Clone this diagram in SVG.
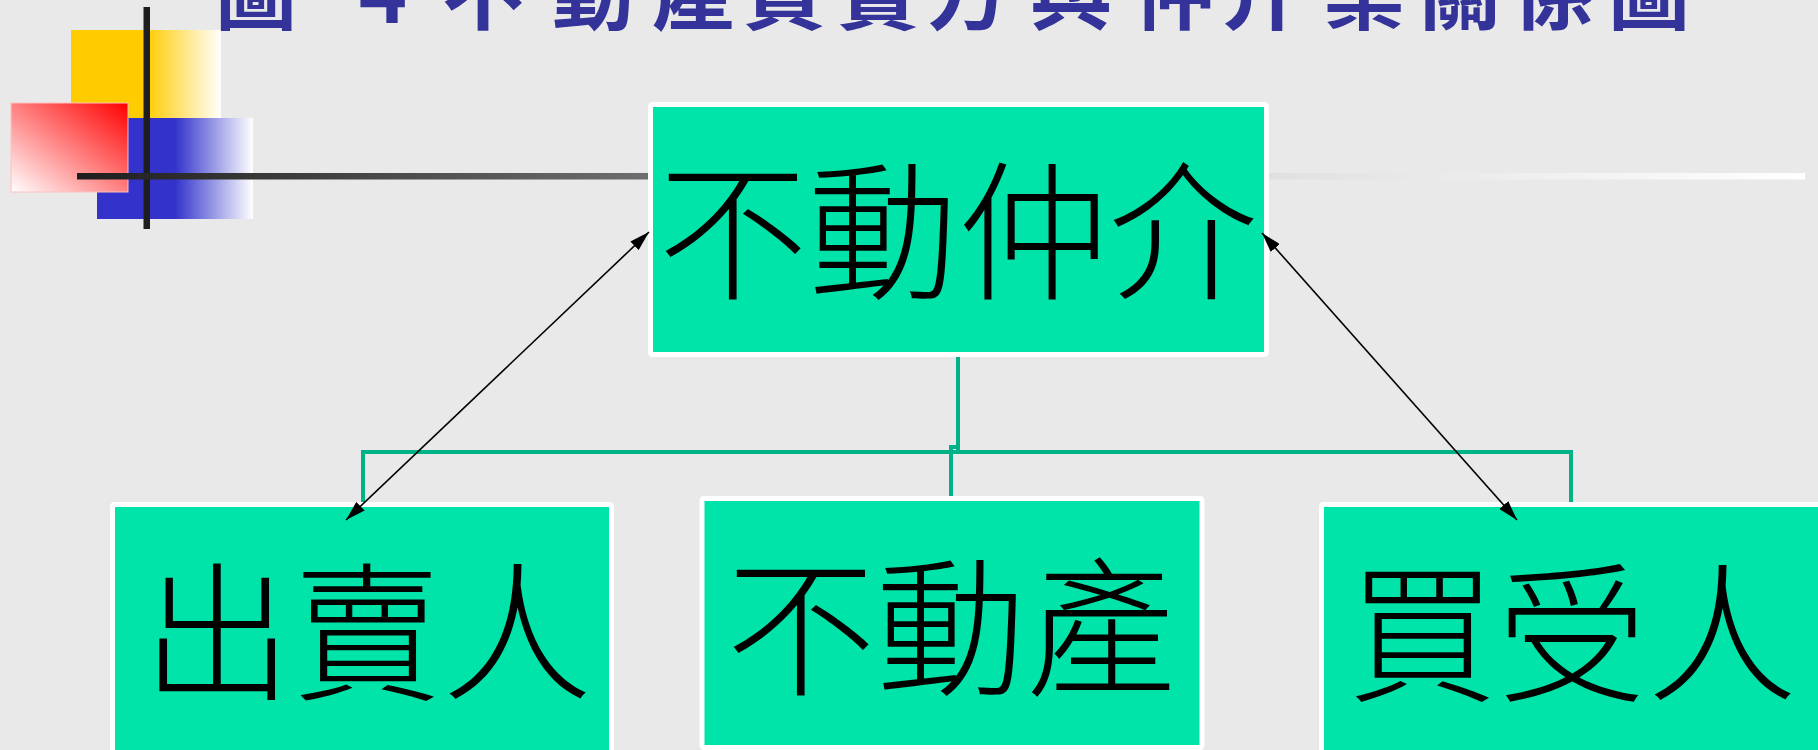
<svg xmlns="http://www.w3.org/2000/svg" width="1818" height="750" viewBox="0 0 1818 750">
  <style>
    .box { fill: #00e4aa; stroke: #ffffff; stroke-width: 5; }
    .lbl { font-family: "Noto Sans CJK TC", "Noto Sans CJK SC", sans-serif; font-size: 150px; font-weight: 300; fill: #000000; text-anchor: middle; }
    .title { font-family: "Noto Sans CJK TC", "Noto Sans CJK SC", sans-serif; font-size: 82px; font-weight: 700; fill: #333399; text-anchor: middle; }
    .tree { fill: none; stroke: #00b386; stroke-width: 4; }
    .arrow { fill: none; stroke: #000000; stroke-width: 1.6; marker-start: url(#ah); marker-end: url(#ah); }
  </style>
  <defs>
    <linearGradient id="gYellow" x1="0" y1="0" x2="1" y2="0">
      <stop offset="0" stop-color="#ffcc00"/>
      <stop offset="0.5" stop-color="#ffcc00"/>
      <stop offset="1" stop-color="#ffffff"/>
    </linearGradient>
    <linearGradient id="gBlue" x1="0" y1="0" x2="1" y2="0">
      <stop offset="0" stop-color="#3333cc"/>
      <stop offset="0.5" stop-color="#3333cc"/>
      <stop offset="1" stop-color="#ffffff"/>
    </linearGradient>
    <linearGradient id="gRed" x1="1" y1="0" x2="0" y2="1">
      <stop offset="0" stop-color="#ff0000"/>
      <stop offset="1" stop-color="#ffffff"/>
    </linearGradient>
    <linearGradient id="gLine" gradientUnits="userSpaceOnUse" x1="77" y1="0" x2="1805" y2="0">
      <stop offset="0" stop-color="#1e1e1e"/>
      <stop offset="0.33" stop-color="#6e6e6e"/>
      <stop offset="0.62" stop-color="#d9d9d9"/>
      <stop offset="1" stop-color="#ffffff"/>
    </linearGradient>
    <marker id="ah" viewBox="0 0 20 12" refX="20" refY="6" markerWidth="20" markerHeight="12" markerUnits="userSpaceOnUse" orient="auto-start-reverse">
      <path d="M0,0 L20,6 L0,12 z" fill="#000000"/>
    </marker>
  </defs>

  <rect x="0" y="0" width="1818" height="750" fill="#e9e9e9"/>

  <g id="decoration">
    <rect x="71" y="30" width="150" height="89" fill="url(#gYellow)"/>
    <rect x="97" y="118" width="156" height="101" fill="url(#gBlue)"/>
    <rect x="11" y="103" width="117" height="89" fill="url(#gRed)" stroke="#ffc0c0" stroke-width="1"/>
    <rect x="143.5" y="7" width="6.5" height="222" fill="#1e1e1e"/>
    <rect x="77" y="173" width="1728" height="6.5" fill="url(#gLine)"/>
  </g>

  <g id="title">
    <text class="title" y="23" x="256 383 483 593 693 784 878 968 1071 1174 1261 1364 1460 1553 1649">圖4不動產買賣方與仲介業關係圖</text>
  </g>

  <g id="node-agent">
    <rect class="box" x="650.5" y="104.5" width="616" height="250" rx="2"/>
    <text class="lbl" x="958" y="288">不動仲介</text>
  </g>

  <g id="node-seller">
    <rect class="box" x="112.5" y="504.5" width="499" height="262" rx="2"/>
    <text class="lbl" x="367" y="689">出賣人</text>
  </g>

  <g id="node-property">
    <rect class="box" x="702" y="498.5" width="500" height="249" rx="2"/>
    <text class="lbl" x="951" y="684">不動產</text>
  </g>

  <g id="node-buyer">
    <rect class="box" x="1321.5" y="504.5" width="502" height="262" rx="2"/>
    <text class="lbl" x="1572" y="690">買受人</text>
  </g>

  <g id="connectors">
    <path class="tree" d="M958,357 V452 H363 V502"/>
    <path class="tree" d="M958,357 V452 H1571 V502"/>
    <path class="tree" d="M958,357 V447 H951 V496"/>
    <line class="arrow" x1="649" y1="232" x2="346" y2="520"/>
    <line class="arrow" x1="1262" y1="233" x2="1517" y2="520"/>
  </g>
</svg>
